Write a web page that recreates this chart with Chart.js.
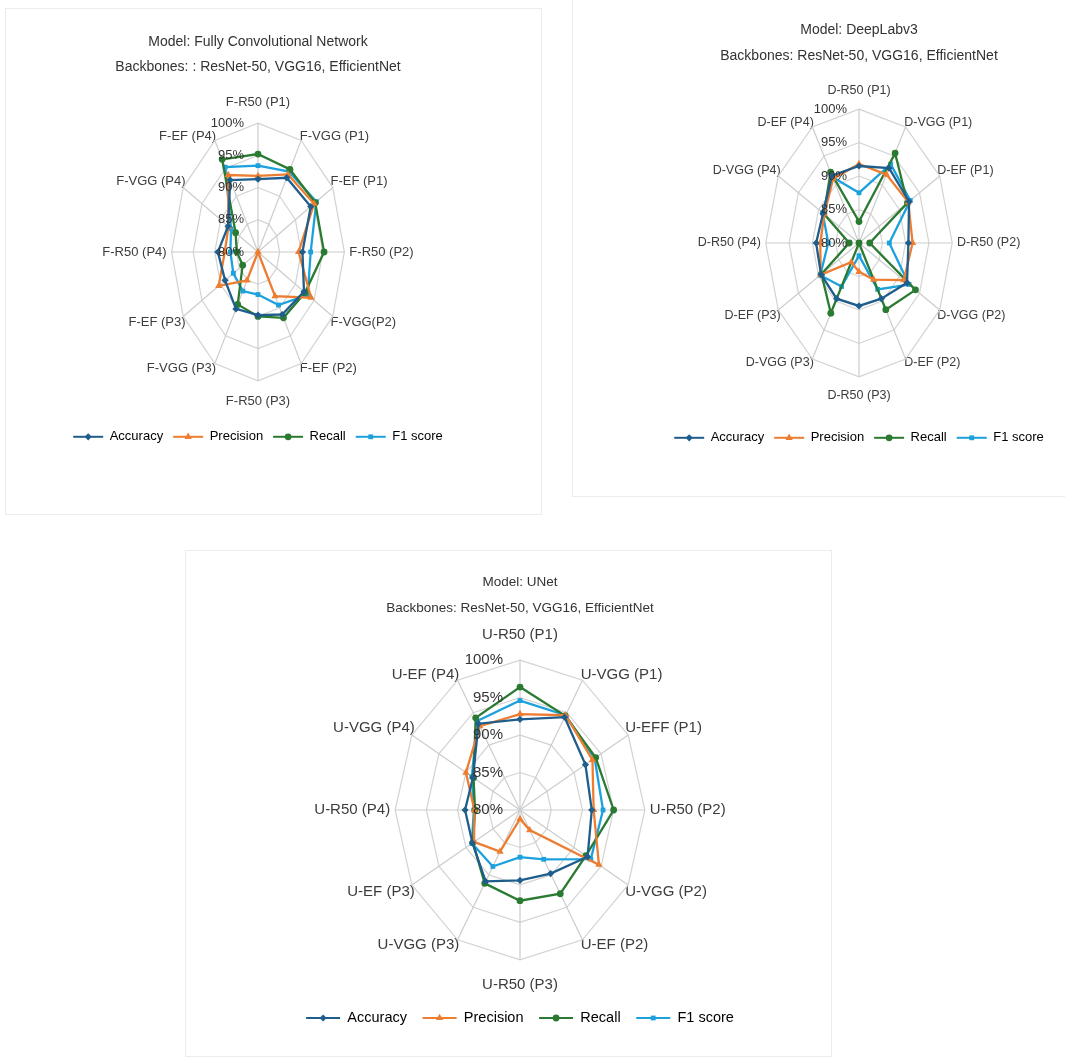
<!DOCTYPE html>
<html>
<head>
<meta charset="utf-8">
<script src="https://cdn.jsdelivr.net/npm/chart.js@4.4.1/dist/chart.umd.min.js"></script>
<style>
  body { margin: 0; background: #fff; }
  #page { position: relative; width: 1065px; height: 1060px; overflow: hidden; }
  .frame { position: absolute; border: 1px solid #ececec; }
  .box { position: absolute; }
</style>
</head>
<body>
<div id="page">
  <div class="frame" style="left:5px;top:8px;width:535px;height:505px"></div>
  <div class="frame" style="left:572px;top:-2px;width:495px;height:497px"></div>
  <div class="frame" style="left:185px;top:550px;width:645px;height:505px"></div>
  <div class="box" style="left:5px;top:8px;width:506px;height:454px"><canvas id="fcnChart"></canvas></div>
  <div class="box" style="left:620px;top:0px;width:478px;height:471px"><canvas id="deeplabChart"></canvas></div>
  <div class="box" style="left:200px;top:550px;width:640px;height:486px"><canvas id="unetChart"></canvas></div>
</div>
<script>
// Data
const metricNames = ['Accuracy', 'Precision', 'Recall', 'F1 score'];
const tickValues = [80, 85, 90, 95, 100];

const fcnLabels = ['F-R50 (P1)', 'F-VGG (P1)', 'F-EF (P1)', 'F-R50 (P2)', 'F-VGG(P2)', 'F-EF (P2)',
  'F-R50 (P3)', 'F-VGG (P3)', 'F-EF (P3)', 'F-R50 (P4)', 'F-VGG (P4)', 'F-EF (P4)'];
const fcnAccuracy  = [91.3, 93.3, 94.1, 90.3, 92.3, 91.2, 89.8, 90.2, 88.8, 89.3, 88.0, 92.9];
const fcnPrecision = [91.8, 93.9, 95.0, 89.4, 94.2, 87.9, 80.0, 85.1, 90.5, 87.7, 87.9, 93.8];
const fcnRecall    = [95.2, 94.8, 95.3, 95.3, 92.6, 91.8, 90.0, 89.4, 84.1, 84.9, 86.0, 96.6];
const fcnF1        = [93.4, 94.4, 95.6, 92.2, 93.3, 89.5, 86.6, 87.0, 86.6, 86.4, 87.2, 95.2];

const deeplabLabels = ['D-R50 (P1)', 'D-VGG (P1)', 'D-EF (P1)', 'D-R50 (P2)', 'D-VGG (P2)', 'D-EF (P2)',
  'D-R50 (P3)', 'D-VGG (P3)', 'D-EF (P3)', 'D-R50 (P4)', 'D-VGG (P4)', 'D-EF (P4)'];
const deeplabAccuracy  = [91.5, 92.9, 92.4, 90.6, 91.9, 89.6, 89.4, 89.6, 89.4, 89.2, 88.9, 91.6];
const deeplabPrecision = [91.8, 91.8, 92.2, 91.5, 91.1, 86.3, 84.3, 83.3, 89.5, 88.3, 88.6, 91.1];
const deeplabRecall    = [83.2, 95.5, 92.0, 82.3, 94.0, 91.5, 80.0, 92.1, 89.3, 82.1, 88.7, 92.2];
const deeplabF1        = [87.5, 93.6, 92.7, 86.5, 92.4, 88.0, 81.9, 87.5, 89.6, 86.6, 89.0, 91.4];

const unetLabels = ['U-R50 (P1)', 'U-VGG (P1)', 'U-EFF (P1)', 'U-R50 (P2)', 'U-VGG (P2)', 'U-EF (P2)',
  'U-R50 (P3)', 'U-VGG (P3)', 'U-EF (P3)', 'U-R50 (P4)', 'U-VGG (P4)', 'U-EF (P4)'];
const unetAccuracy  = [92.1, 94.3, 92.1, 91.5, 92.5, 89.8, 89.4, 91.0, 88.8, 88.8, 88.7, 93.3];
const unetPrecision = [92.8, 94.6, 93.4, 91.8, 94.6, 83.1, 81.2, 86.4, 88.5, 87.3, 90.0, 92.9];
const unetRecall    = [96.4, 94.5, 94.0, 95.0, 92.2, 92.9, 92.1, 91.3, 88.7, 87.2, 88.6, 94.2];
const unetF1        = [94.6, 94.6, 93.8, 93.3, 93.1, 87.6, 86.3, 88.7, 88.9, 87.4, 88.9, 93.7];

// Styles
const metricColors = ['#1F5E8C', '#ED7D31', '#2A7A32', '#1CA1DD'];
const metricMarkers = ['rectRot', 'triangle', 'circle', 'rect'];
const metricRadius = [3.6, 4.2, 3.4, 3.4];
const FONT = "'Liberation Sans', Arial, sans-serif";

// radial scale stretched into an ellipse (the source charts are squeezed sideways)
class SquashedRadialScale extends Chart.RadialLinearScale {
  getPointPosition(index, distance, additionalAngle) {
    const p = super.getPointPosition(index, distance, additionalAngle);
    const k = this.options.squash || 1;
    return { x: this.xCenter + (p.x - this.xCenter) * k, y: p.y, angle: p.angle };
  }
}
SquashedRadialScale.id = 'squashedRadial';
SquashedRadialScale.defaults = Chart.RadialLinearScale.defaults;
Chart.register(SquashedRadialScale);

// tick labels right-aligned left of the vertical axis, drawn over the lines
const tickLabelPlugin = {
  id: 'tickLabels',
  afterDatasetsDraw(chart, args, opts) {
    const scale = chart.scales.r;
    const ctx = chart.ctx;
    ctx.save();
    ctx.font = opts.size + 'px ' + FONT;
    ctx.fillStyle = '#333333';
    ctx.textAlign = 'right';
    ctx.textBaseline = 'middle';
    tickValues.forEach(v => {
      const y = scale.yCenter - scale.getDistanceFromCenterForValue(v);
      ctx.fillText(v + '%', scale.xCenter - opts.gap, y);
    });
    ctx.restore();
  }
};

// legend keys: a line with the series marker in the middle
const legendMarkerPlugin = {
  id: 'legendMarkers',
  afterDraw(chart) {
    const legend = chart.legend;
    const ctx = chart.ctx;
    const bw = legend.options.labels.boxWidth;
    legend.legendHitBoxes.forEach((hb, i) => {
      const ds = chart.data.datasets[i];
      const y = hb.top + hb.height / 2;
      ctx.save();
      ctx.strokeStyle = ds.borderColor;
      ctx.fillStyle = ds.borderColor;
      ctx.lineWidth = 2;
      ctx.beginPath();
      ctx.moveTo(hb.left, y);
      ctx.lineTo(hb.left + bw, y);
      ctx.stroke();
      Chart.helpers.drawPoint(ctx, { pointStyle: ds.pointStyle, radius: ds.pointRadius, rotation: 0, borderWidth: 0 }, hb.left + bw / 2, y);
      ctx.restore();
    });
  }
};

function makeRadar(id, labels, series, title, cfg) {
  return new Chart(document.getElementById(id), {
    type: 'radar',
    data: {
      labels: labels,
      datasets: series.map((values, i) => ({
        label: metricNames[i],
        data: values,
        borderColor: metricColors[i],
        backgroundColor: metricColors[i],
        pointBackgroundColor: metricColors[i],
        pointBorderColor: metricColors[i],
        pointStyle: metricMarkers[i],
        pointRadius: metricRadius[i],
        pointBorderWidth: 0,
        borderWidth: 2.3,
        fill: false
      }))
    },
    options: {
      responsive: true,
      maintainAspectRatio: false,
      animation: false,
      layout: { padding: 0 },
      scales: {
        r: {
          type: 'squashedRadial',
          squash: cfg.squash,
          min: 80,
          max: 100,
          ticks: { display: false, stepSize: 5 },
          grid: { color: '#d3d3d3', lineWidth: 1.2 },
          angleLines: { color: '#cccccc', lineWidth: 1.2 },
          pointLabels: {
            color: '#3c3c3c',
            font: { family: FONT, size: cfg.labelSize, lineHeight: 1.2 },
            padding: ctx => {
              const k = ctx.index % 6;
              if (k === 0) return cfg.padV;
              if (k === 3) return cfg.padH;
              return -4;
            }
          }
        }
      },
      plugins: {
        title: {
          display: true,
          text: title,
          color: '#333333',
          font: { family: FONT, size: cfg.titleSize, weight: 'normal', lineHeight: cfg.titleLine },
          padding: cfg.titlePad
        },
        legend: {
          position: 'bottom',
          labels: {
            color: '#3c3c3c',
            font: { family: FONT, size: cfg.legendSize },
            boxWidth: cfg.keyWidth,
            boxHeight: cfg.keyHeight,
            padding: cfg.legendPad,
            generateLabels: chart => chart.data.datasets.map((ds, i) => ({
              text: ds.label,
              fillStyle: 'rgba(0,0,0,0)',
              strokeStyle: 'rgba(0,0,0,0)',
              lineWidth: 0,
              hidden: false,
              datasetIndex: i
            }))
          }
        },
        tooltip: { enabled: false },
        tickLabels: { size: cfg.tickSize, gap: cfg.tickGap }
      }
    },
    plugins: [tickLabelPlugin, legendMarkerPlugin]
  });
}

makeRadar('fcnChart', fcnLabels, [fcnAccuracy, fcnPrecision, fcnRecall, fcnF1],
  ['Model: Fully Convolutional Network', 'Backbones: : ResNet-50, VGG16, EfficientNet'], {
    squash: 0.67, labelSize: 13, padV: 13.2, padH: 7.5,
    titleSize: 14, titleLine: 1.79, titlePad: { top: 21.5, bottom: 14.7 },
    legendSize: 13, keyWidth: 30, keyHeight: 30.4, legendPad: 10,
    tickSize: 13, tickGap: 14
  });

makeRadar('deeplabChart', deeplabLabels, [deeplabAccuracy, deeplabPrecision, deeplabRecall, deeplabF1],
  ['Model: DeepLabv3', 'Backbones: ResNet-50, VGG16, EfficientNet'], {
    squash: 0.696, labelSize: 12.5, padV: 10.8, padH: 7,
    titleSize: 14, titleLine: 1.86, titlePad: { top: 17, bottom: 14.2 },
    legendSize: 13, keyWidth: 30, keyHeight: 46.4, legendPad: 10,
    tickSize: 13, tickGap: 12
  });

makeRadar('unetChart', unetLabels, [unetAccuracy, unetPrecision, unetRecall, unetF1],
  ['Model: UNet', 'Backbones: ResNet-50, VGG16, EfficientNet'], {
    squash: 0.833, labelSize: 15, padV: 16.4, padH: 6,
    titleSize: 13.5, titleLine: 1.93, titlePad: { top: 19, bottom: 4.6 },
    legendSize: 14.5, keyWidth: 34, keyHeight: 16, legendPad: 15.6,
    tickSize: 15, tickGap: 17
  });
</script>
</body>
</html>
